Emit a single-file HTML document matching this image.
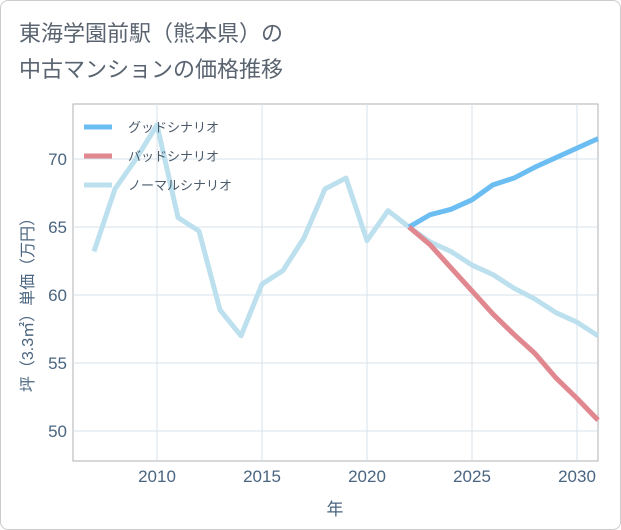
<!DOCTYPE html>
<html><head><meta charset="utf-8"><style>
body{margin:0;background:#fff;font-family:"Liberation Sans","Noto Sans CJK JP",sans-serif}
#wrap{position:relative;width:619px;height:528px;border:1px solid #ccc;border-radius:8px;overflow:hidden}
</style></head><body>
<div id="wrap">
<svg id="c" width="619" height="528" font-family="Liberation Sans, Noto Sans CJK JP, sans-serif">
<text x="18" y="40" font-size="22" fill="#5a6470">東海学園前駅（熊本県）の</text>
<text x="18" y="76" font-size="22" fill="#5a6470">中古マンションの価格推移</text>
<rect x="72" y="103" width="525" height="357" fill="none" stroke="#b0b0b0"/>
<g id="grid"></g><g id="series"></g><g id="legend"></g>
<text transform="translate(32,300) rotate(-90)" font-size="16" fill="#4a6580" text-anchor="middle">坪（3.3㎡）単価（万円）</text>
<text x="334" y="514" font-size="17" fill="#4a6580" text-anchor="middle">年</text>
</svg></div>
<script>
const normalYears=[2007,2008,2009,2010,2011,2012,2013,2014,2015,2016,2017,2018,2019,2020,2021,2022,2023,2024,2025,2026,2027,2028,2029,2030,2031];
const normalValues=[63.2,67.8,70,72.5,65.7,64.7,58.9,57.0,60.8,61.8,64.2,67.8,68.6,64.0,66.2,65.0,63.9,63.2,62.2,61.5,60.5,59.7,58.7,58.0,57.0];
const scenarioYears=[2022,2023,2024,2025,2026,2027,2028,2029,2030,2031];
const goodValues=[65.0,65.9,66.3,67.0,68.1,68.6,69.4,70.1,70.8,71.5];
const badValues=[65.0,63.7,62.0,60.3,58.6,57.1,55.7,53.9,52.4,50.8];
const xTicks=[2010,2015,2020,2025,2030];
const yTicks=[50,55,60,65,70];
const NS="http://www.w3.org/2000/svg";
const X=y=>156+(y-2010)*21, Y=v=>158+(70-v)*13.6;
function mk(t,a,p){const e=document.createElementNS(NS,t);for(const k in a)e.setAttribute(k,a[k]);p.appendChild(e);return e;}
const g=document.getElementById('grid');
xTicks.forEach(t=>{
 const l=mk('line',{x1:X(t),x2:X(t),y1:103,y2:460,stroke:'#d5e2ea'},g);
 
 
 const tx=mk('text',{x:X(t),y:481,'font-size':17,fill:'#4a6580','text-anchor':'middle'},g);tx.textContent=t;
 
 
});
yTicks.forEach(t=>{
 const l=mk('line',{x1:72,x2:597,y1:Y(t),y2:Y(t),stroke:'#d5e2ea'},g);
 
 
 const tx=mk('text',{x:66,y:Y(t)+6,'font-size':17,fill:'#4a6580','text-anchor':'end'},g);tx.textContent=t;
 
 
});
const s=document.getElementById('series');
function line(xs,vs,col,name){
 const p=mk('polyline',{points:xs.map((y,i)=>X(y)+','+Y(vs[i])).join(' '),fill:'none',stroke:col,'stroke-width':5,'stroke-linejoin':'round'},s);
 
 
}
line(normalYears,normalValues,'#bde0ee','normal-scenario-line');
line(scenarioYears,goodValues,'#6bbdf2','good-scenario-line');
line(scenarioYears,badValues,'#e0878f','bad-scenario-line');
const lg=document.getElementById('legend');
[['グッドシナリオ','#6bbdf2'],['バッドシナリオ','#e0878f'],['ノーマルシナリオ','#bde0ee']].forEach((d,i)=>{
 const y=126+i*29;
 const l=mk('line',{x1:83,x2:111,y1:y,y2:y,stroke:d[1],'stroke-width':5},lg);
 
 
 const t=mk('text',{x:127,y:y+5,'font-size':13,fill:'#4a5a6a'},lg);t.textContent=d[0];
 
 
});
</script>
</body></html>
